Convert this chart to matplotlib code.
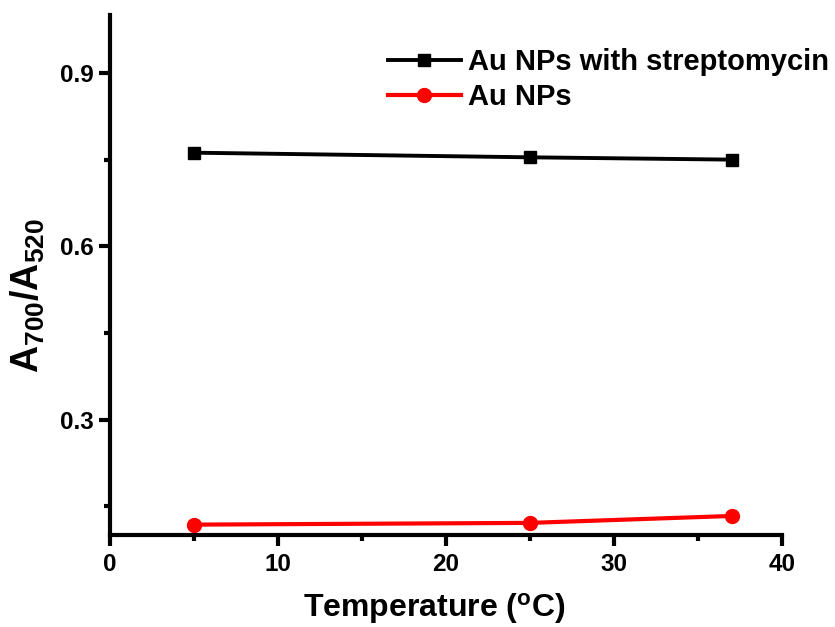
import numpy as np
import matplotlib
matplotlib.use('Agg')
import matplotlib.pyplot as plt
from matplotlib.ticker import MultipleLocator

plt.rcParams['font.family'] = 'Liberation Sans'
plt.rcParams['font.weight'] = 'bold'
plt.rcParams['mathtext.fontset'] = 'custom'
plt.rcParams['mathtext.rm'] = 'Liberation Sans:bold'
plt.rcParams['mathtext.it'] = 'Liberation Sans:bold'
plt.rcParams['mathtext.bf'] = 'Liberation Sans:bold'

temps = [5, 25, 37]
with_strep = [0.762, 0.754, 0.750]
au_nps = [0.118, 0.121, 0.133]
labels = ['Au NPs with streptomycin', 'Au NPs']

fig01 = plt.figure(figsize=(8.35, 6.27), dpi=100)
axs01 = fig01.add_axes([0.1317, 0.1467, 0.8048, 0.829])

axs01.plot(temps, with_strep, color='black', marker='s', ms=8.5, lw=2.8, label=labels[0])
axs01.plot(temps, au_nps, color='red', marker='o', ms=10, lw=3, label=labels[1])

axs01.set_xlim(0, 40)
axs01.set_ylim(0.1, 1.0)
axs01.xaxis.set_major_locator(MultipleLocator(10))
axs01.xaxis.set_minor_locator(MultipleLocator(5))
axs01.yaxis.set_major_locator(MultipleLocator(0.3))
axs01.yaxis.set_minor_locator(MultipleLocator(0.15))

for side in ['top', 'right']:
    axs01.spines[side].set_visible(False)
for side in ['left', 'bottom']:
    axs01.spines[side].set_linewidth(3)
axs01.tick_params(which='major', direction='out', length=8, width=3, labelsize=17.5)
axs01.tick_params(axis='y', which='major', pad=4)
axs01.tick_params(axis='x', which='major', pad=5)
axs01.tick_params(which='minor', direction='out', length=4.5, width=3)

axs01.set_xlabel(r'Temperature ($\mathregular{^o}$C)', fontsize=23, fontweight='bold')
axs01.set_ylabel(r'$\mathregular{A_{700}/A_{520}}$', fontsize=27, fontweight='bold')
axs01.xaxis.set_label_coords(0.482, -0.107)
axs01.yaxis.set_label_coords(-0.094, 0.4615)

axs01.legend(loc='upper left', bbox_to_anchor=(388/835, 1 - 48/627),
             bbox_transform=fig01.transFigure, frameon=False,
             handlelength=2.5, handletextpad=0.25, labelspacing=0.25,
             borderaxespad=0, borderpad=0, prop={'weight': 'bold', 'size': 21})

plt.savefig('out.png', dpi=100)
plt.close()
